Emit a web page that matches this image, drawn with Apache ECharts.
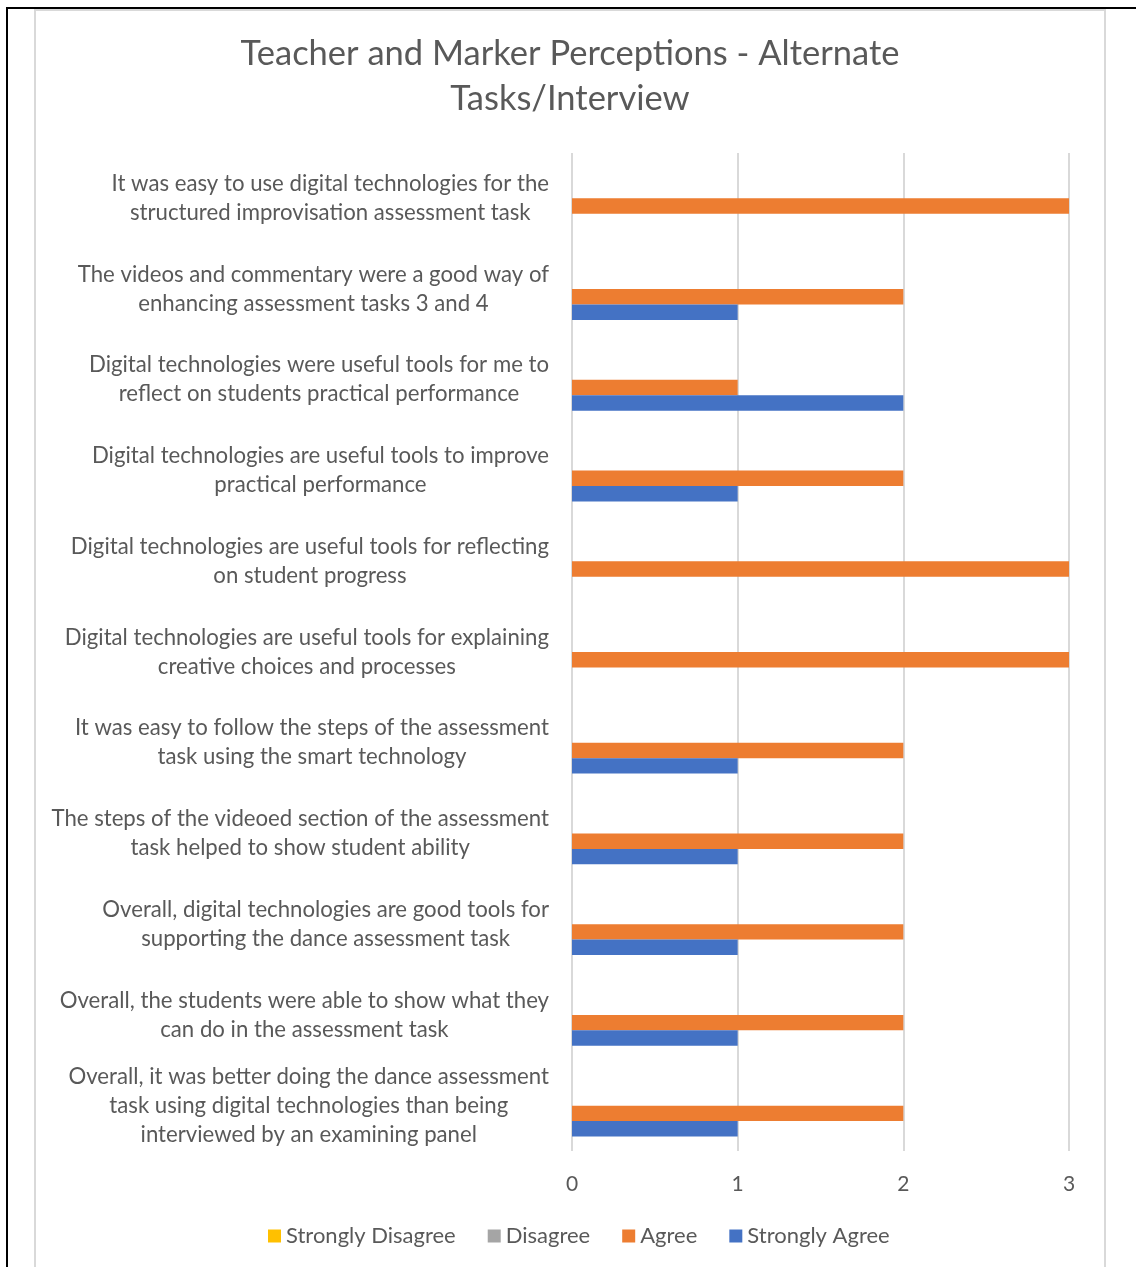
<!DOCTYPE html>
<html>
<head>
<meta charset="utf-8">
<script src="https://cdn.jsdelivr.net/npm/echarts@6/dist/echarts.min.js"></script>
<style>
  html, body { margin: 0; padding: 0; background: #fff; }
  #outer { position: absolute; left: 6px; top: 7px; width: 1130px; height: 1260px; border-left: 2px solid #000; border-top: 2px solid #000; box-sizing: border-box; }
  #inner { position: absolute; left: 34px; top: 9px; width: 1072px; height: 1258px; border-left: 2px solid #d9d9d9; border-right: 2px solid #d9d9d9; border-top: 2px solid #d9d9d9; box-sizing: border-box; }
  #chart { position: absolute; left: 0; top: 0; width: 1136px; height: 1267px; }
</style>
</head>
<body>
<div id="outer"></div>
<div id="inner"></div>
<div id="chart"></div>
<script>
const titleText = "Teacher and Marker Perceptions - Alternate\nTasks/Interview";

const categories = [
  "It was easy to use digital technologies for the\nstructured improvisation assessment task",
  "The videos and commentary were a good way of\nenhancing assessment tasks 3 and 4",
  "Digital technologies were useful tools for me to\nreflect on students practical performance",
  "Digital technologies are useful tools to improve\npractical performance",
  "Digital technologies are useful tools for reflecting\non student progress",
  "Digital technologies are useful tools for explaining\ncreative choices and processes",
  "It was easy to follow the steps of the assessment\ntask using the smart technology",
  "The steps of the videoed section of the assessment\ntask helped to show student ability",
  "Overall, digital technologies are good tools for\nsupporting the dance assessment task",
  "Overall, the students were able to show what they\ncan do in the assessment task",
  "Overall, it was better doing the dance assessment\ntask using digital technologies than being\ninterviewed by an examining panel"
];

const seriesNames = ["Strongly Disagree", "Disagree", "Agree", "Strongly Agree"];
const stronglyDisagree = [0, 0, 0, 0, 0, 0, 0, 0, 0, 0, 0];
const disagree = [0, 0, 0, 0, 0, 0, 0, 0, 0, 0, 0];
const agree = [3, 2, 1, 2, 3, 3, 2, 2, 2, 2, 2];
const stronglyAgree = [0, 1, 2, 1, 0, 0, 1, 1, 1, 1, 1];
const xTicks = [0, 1, 2, 3];

const colors = ["#FFC000", "#A5A5A5", "#ED7D31", "#4472C4"];
const FONT = "Lato, 'Open Sans', sans-serif";
const TEXT = "#595959";

const chart = echarts.init(document.getElementById('chart'), null, { renderer: 'canvas' });

const seriesData = [stronglyDisagree, disagree, agree, stronglyAgree];

chart.setOption({
  animation: false,
  color: colors,
  textStyle: { fontFamily: FONT },
  title: {
    text: titleText,
    left: 565,
    top: 26,
    textAlign: 'center',
    textStyle: { fontFamily: FONT, fontSize: 34.5, fontWeight: 'normal', color: TEXT, lineHeight: 45 }
  },
  legend: {
    data: seriesNames,
    left: 263,
    top: 1220,
    icon: 'rect',
    itemWidth: 13,
    itemHeight: 13,
    itemGap: 32,
    textStyle: { fontFamily: FONT, fontSize: 22, color: TEXT }
  },
  grid: { left: 572, right: 67, top: 153, bottom: 116, containLabel: false },
  xAxis: {
    type: 'value',
    min: xTicks[0],
    max: xTicks[xTicks.length - 1],
    interval: 1,
    axisLine: { show: false },
    axisTick: { show: false },
    axisLabel: { fontFamily: FONT, fontSize: 21, color: TEXT, margin: 23 },
    splitLine: { show: true, lineStyle: { color: '#d9d9d9', width: 2 } }
  },
  yAxis: {
    type: 'category',
    inverse: true,
    data: categories,
    axisLine: { show: false },
    axisTick: { show: false },
    axisLabel: {
      margin: 23,
      formatter: function (v) {
        return v.split('\n').map(l => '{c|' + l + '}').join('\n');
      },
      rich: {
        c: { align: 'center', fontFamily: FONT, fontSize: 22.2, color: TEXT, lineHeight: 29 }
      }
    }
  },
  series: seriesNames.map((name, i) => ({
    name: name,
    type: 'bar',
    data: seriesData[i],
    barGap: '0%',
    barCategoryGap: '32%',
    itemStyle: { color: colors[i] }
  }))
});
</script>
</body>
</html>
